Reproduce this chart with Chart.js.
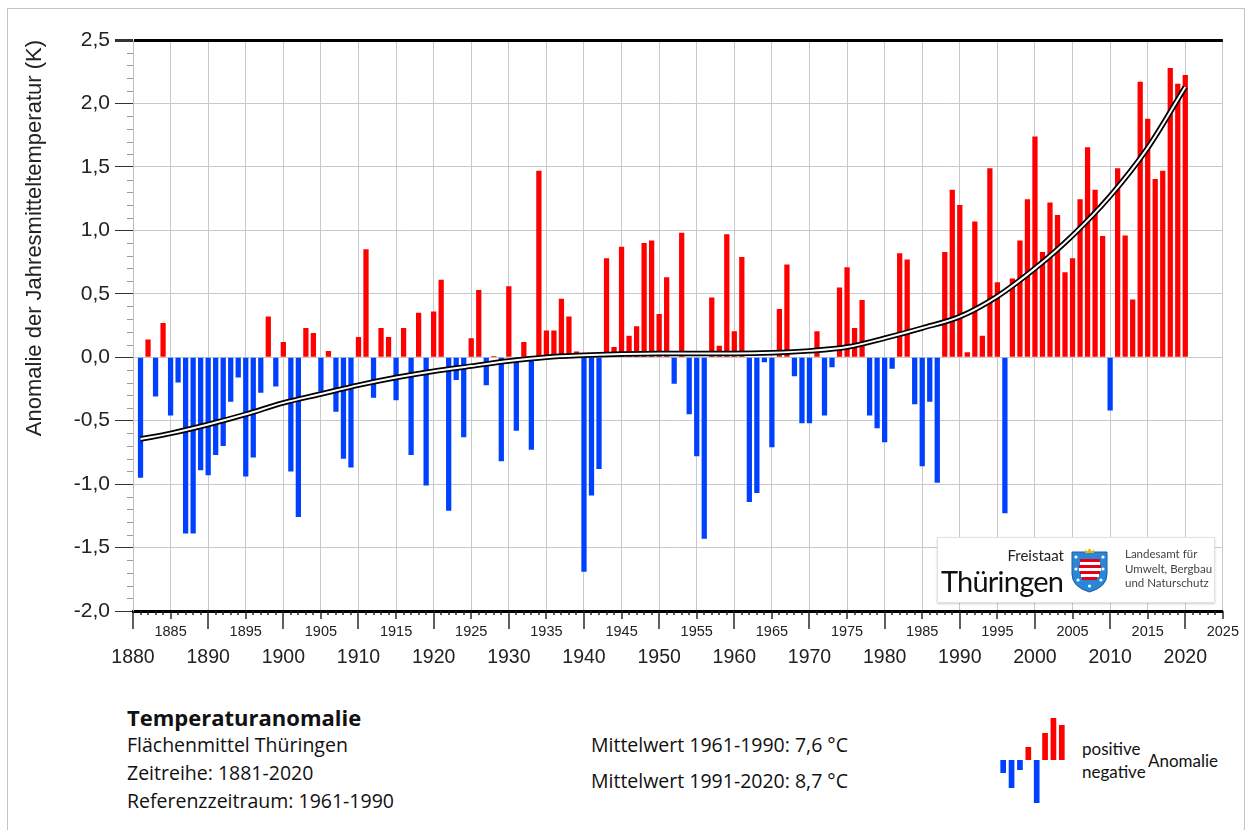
<!DOCTYPE html>
<html>
<head>
<meta charset="utf-8">
<script src="https://cdn.jsdelivr.net/npm/chart.js@4.4.1/dist/chart.umd.min.js"></script>
<style>
  body{margin:0;background:#fff;width:1251px;height:830px;overflow:hidden;position:relative;font-family:"Open Sans","Noto Sans",sans-serif;color:#111;}
  #frame{position:absolute;left:7px;top:8px;width:1236px;height:840px;border:1px solid #c4c4c4;}
  #main{position:absolute;left:0;top:0;}
  #legendIcon{position:absolute;left:999px;top:712px;}
  .t{position:absolute;white-space:nowrap;line-height:1;}
  .lg{font-family:Lato,"Open Sans",sans-serif;font-size:17px;}
  #logo{position:absolute;left:937px;top:537px;width:276px;height:64px;background:#fff;border:1px solid #e2e2e2;box-shadow:0 1px 2px rgba(0,0,0,.18);font-family:Lato,"Open Sans",sans-serif;}
  #logo .fs{position:absolute;right:150px;top:8px;font-size:15px;color:#222;}
  #logo .th{position:absolute;left:3px;top:25px;font-size:29px;color:#111;letter-spacing:-0.8px;}
  #logo .lf{position:absolute;left:187px;top:9px;font-size:11.5px;line-height:14.5px;color:#444;}
  #logo svg{position:absolute;left:133px;top:9px;}
</style>
</head>
<body>
<div id="frame"></div>
<canvas id="main" width="1251" height="681"></canvas>

<div id="logo">
  <div class="fs">Freistaat</div>
  <div class="th">Thüringen</div>
  <svg width="37" height="46" viewBox="0 0 37 46">
    <path d="M1,5 H36 V27 Q36,40 18.5,45 Q1,40 1,27 Z" fill="#2a86d6" stroke="#1c5f9e" stroke-width="1"/>
    <path d="M14,2 L16,5 L18.5,1 L21,5 L23,2 L23,6 L14,6 Z" fill="#e8b400"/>
    <g fill="#e3001b">
      <rect x="9" y="12" width="20" height="3"/><rect x="8" y="18" width="22" height="3"/>
      <rect x="9" y="24" width="20" height="3"/><rect x="11" y="30" width="15" height="3"/>
    </g>
    <g fill="#fff">
      <rect x="9" y="15" width="20" height="3"/><rect x="8" y="21" width="22" height="3"/>
      <rect x="10" y="27" width="18" height="3"/>
      <circle cx="5" cy="10" r="1.6"/><circle cx="32" cy="10" r="1.6"/><circle cx="5" cy="22" r="1.6"/>
      <circle cx="32" cy="22" r="1.6"/><circle cx="7" cy="33" r="1.6"/><circle cx="30" cy="33" r="1.6"/>
      <circle cx="18.5" cy="39" r="1.6"/>
    </g>
  </svg>
  <div class="lf">Landesamt für<br>Umwelt, Bergbau<br>und Naturschutz</div>
</div>

<div class="t" style="left:127px;top:706px;font-size:22px;font-weight:bold;">Temperaturanomalie</div>
<div class="t" style="left:127px;top:735px;font-size:19.5px;">Flächenmittel Thüringen</div>
<div class="t" style="left:127px;top:763px;font-size:19.5px;">Zeitreihe: 1881-2020</div>
<div class="t" style="left:127px;top:791px;font-size:19.5px;">Referenzzeitraum: 1961-1990</div>
<div class="t" style="left:591px;top:735px;font-size:19.5px;">Mittelwert 1961-1990: 7,6 °C</div>
<div class="t" style="left:591px;top:771px;font-size:19.5px;">Mittelwert 1991-2020: 8,7 °C</div>

<canvas id="legendIcon" width="67" height="96"></canvas>
<div class="t lg" style="left:1082px;top:740px;">positive</div>
<div class="t lg" style="left:1082px;top:763px;">negative</div>
<div class="t lg" style="left:1148px;top:752px;">Anomalie</div>

<script>
// Jahresmitteltemperatur-Anomalie Thüringen, 1881-2020 (K, Bezug 1961-1990)
const firstYear = 1881;
const anomalies = [
  -0.95, 0.14, -0.31, 0.27, -0.46, -0.20, -1.39, -1.39, -0.89, -0.93,   // 1881-1890
  -0.77, -0.70, -0.35, -0.16, -0.94, -0.79, -0.28, 0.32, -0.23, 0.12,   // 1891-1900
  -0.90, -1.26, 0.23, 0.19, -0.27, 0.05, -0.43, -0.80, -0.87, 0.16,     // 1901-1910
  0.85, -0.32, 0.23, 0.16, -0.34, 0.23, -0.77, 0.35, -1.01, 0.36,       // 1911-1920
  0.61, -1.21, -0.18, -0.63, 0.15, 0.53, -0.22, 0.01, -0.82, 0.56,      // 1921-1930
  -0.58, 0.12, -0.73, 1.47, 0.21, 0.21, 0.46, 0.32, 0.045, -1.69,       // 1931-1940
  -1.09, -0.88, 0.78, 0.08, 0.87, 0.17, 0.245, 0.90, 0.92, 0.34,        // 1941-1950
  0.63, -0.21, 0.98, -0.45, -0.78, -1.43, 0.47, 0.09, 0.97, 0.205,      // 1951-1960
  0.79, -1.14, -1.07, -0.04, -0.71, 0.38, 0.73, -0.15, -0.52, -0.52,    // 1961-1970
  0.205, -0.46, -0.08, 0.55, 0.71, 0.23, 0.45, -0.46, -0.56, -0.67,     // 1971-1980
  -0.09, 0.82, 0.77, -0.37, -0.86, -0.35, -0.99, 0.83, 1.32, 1.20,      // 1981-1990
  0.04, 1.07, 0.17, 1.49, 0.59, -1.23, 0.62, 0.92, 1.245, 1.74,         // 1991-2000
  0.83, 1.22, 1.12, 0.67, 0.78, 1.245, 1.655, 1.32, 0.955, -0.42,       // 2001-2010
  1.49, 0.96, 0.455, 2.17, 1.88, 1.405, 1.47, 2.28, 2.155, 2.225        // 2011-2020
];
// Trendkurve
const trendYears = [1881,1885,1890,1895,1900,1905,1910,1915,1920,1925,1930,1935,1940,1945,1950,
                    1955,1960,1965,1970,1975,1980,1985,1990,1995,2000,2005,2010,2015,2020];
const trendValues = [-0.645,-0.60,-0.53,-0.45,-0.36,-0.29,-0.22,-0.16,-0.11,-0.07,-0.03,0.0,0.015,0.025,0.03,
                     0.03,0.03,0.035,0.05,0.08,0.15,0.23,0.32,0.48,0.70,0.96,1.27,1.65,2.13];
const yTicks = {min:-2.0, max:2.5, step:0.5};
const xRange = {min:1880, max:2025};
// Legendensymbol
const legendIconValues = [-13,-28,-10,13,-43,27,42,35];

const RED = '#ff0000', BLUE = '#0040ff';
const AXIS_FONT = '"Liberation Sans", Arial, sans-serif';
const GRID = '#c9c9c9';

const barData = anomalies.map((v,i)=>({x:firstYear+i, y:v}));
const trendData = trendYears.map((yr,i)=>({x:yr, y:trendValues[i]}));

// Jahres-Teilstriche an der x-Achse, 0,1-Teilstriche an der y-Achse
const minorTicks = {
  id:'minorTicks',
  afterDraw(chart){
    const {ctx, scales:{x, y}} = chart;
    ctx.save();
    ctx.strokeStyle = '#1a1a1a'; ctx.lineWidth = 1.4;
    for(let yr=xRange.min; yr<=xRange.max; yr++){
      const px = Math.round(x.getPixelForValue(yr));
      const len = yr%10===0 ? 18 : (yr%5===0 ? 8 : 4);
      ctx.beginPath(); ctx.moveTo(px, x.top); ctx.lineTo(px, x.top+len); ctx.stroke();
    }
    ctx.strokeStyle = '#9a9a9a'; ctx.lineWidth = 1;
    for(let k=Math.round(yTicks.min*10); k<=Math.round(yTicks.max*10); k++){
      if(k%5===0) continue;
      const py = Math.round(y.getPixelForValue(k/10))+0.5;
      ctx.beginPath(); ctx.moveTo(y.right-6, py); ctx.lineTo(y.right, py); ctx.stroke();
    }
    ctx.restore();
  }
};

new Chart(document.getElementById('main'), {
  type:'bar',
  data:{datasets:[
    {type:'bar', data:barData, backgroundColor:anomalies.map(v=>v>=0?RED:BLUE),
     barPercentage:0.7, categoryPercentage:1, order:3},
    {type:'line', data:trendData, borderColor:'#000', borderWidth:5.5, pointRadius:0,
     cubicInterpolationMode:'monotone', order:2},
    {type:'line', data:trendData, borderColor:'#fff', borderWidth:2, pointRadius:0,
     cubicInterpolationMode:'monotone', order:1}
  ]},
  options:{
    responsive:false, animation:false, devicePixelRatio:1,
    layout:{padding:{top:40, left:12, right:26, bottom:0}},
    plugins:{legend:{display:false}, tooltip:{enabled:false}},
    scales:{
      x:{type:'linear', min:xRange.min, max:xRange.max, offset:false,
         ticks:{stepSize:5, autoSkip:false, maxRotation:0, padding:12, color:'#222',
                font:{family:AXIS_FONT, size:14.5},
                callback:v=> v%10===5 ? String(v) : ''},
         grid:{offset:false, color:GRID, drawTicks:false},
         border:{color:'#000', width:3},
         afterFit:s=>{ s.height = 30; }},
      x2:{type:'linear', position:'bottom', min:xRange.min, max:xRange.max, offset:false,
          ticks:{stepSize:10, includeBounds:false, autoSkip:false, maxRotation:0, padding:5, color:'#222',
                 font:{family:AXIS_FONT, size:19.5}, callback:v=> v%10===0 ? String(v) : ''},
          grid:{display:false, drawTicks:false}, border:{display:false},
          afterFit:s=>{ s.height = 40; }},
      y:{min:yTicks.min, max:yTicks.max,
         ticks:{stepSize:yTicks.step, padding:5, color:'#222', font:{family:AXIS_FONT, size:21},
                callback:v=>v.toFixed(1).replace('.', ',')},
         grid:{color:c=> c.tick && c.tick.value===yTicks.max ? '#000' : GRID,
               lineWidth:c=> c.tick && c.tick.value===yTicks.max ? 3 : 1,
               tickColor:'#333', tickLength:18},
         border:{color:'#bdbdbd', width:1},
         title:{display:true, text:'Anomalie der Jahresmitteltemperatur (K)', align:'end',
                color:'#222', font:{family:AXIS_FONT, size:22}, padding:{top:10, bottom:0}},
         afterFit:s=>{ s.width = 121; }}
    }
  },
  plugins:[minorTicks]
});

new Chart(document.getElementById('legendIcon'), {
  type:'bar',
  data:{labels:legendIconValues.map((_,i)=>i),
        datasets:[{data:legendIconValues, backgroundColor:legendIconValues.map(v=>v>=0?RED:BLUE),
                   barPercentage:0.68, categoryPercentage:1}]},
  options:{responsive:false, animation:false, devicePixelRatio:1,
    layout:{padding:0},
    plugins:{legend:{display:false}, tooltip:{enabled:false}},
    scales:{x:{display:false}, y:{display:false, min:-48, max:48}}}
});
</script>
</body>
</html>
